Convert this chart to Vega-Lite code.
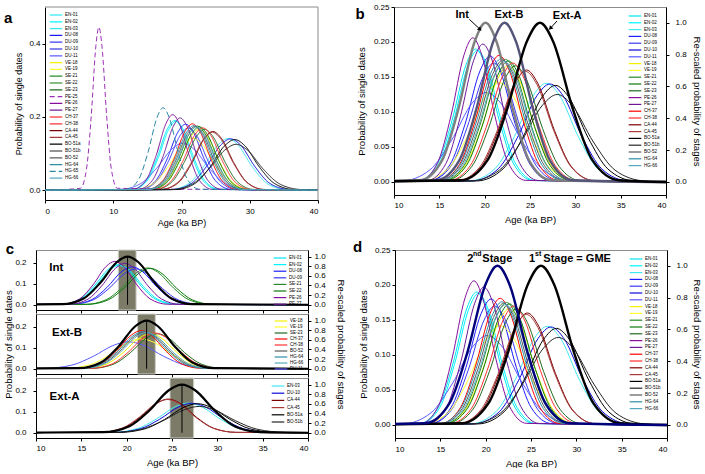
{
"$schema":"https://vega.github.io/schema/vega-lite/v6.json",
"padding":{"left":3,"top":2,"right":0,"bottom":0},
"background":"white",
"config":{
 "font":"Liberation Sans",
 "view":{"stroke":"#8c8c8c","strokeWidth":1},
 "axis":{"labelFontSize":8,"titleFontSize":9.5,"titleFontWeight":"normal","tickSize":3,"labelPadding":2,"grid":false,"domainColor":"#000","tickColor":"#000","labelColor":"#000","titleColor":"#000"},
 "legend":{"symbolType":"M-2.8,0H2.8","symbolSize":20.25,"symbolStrokeWidth":1.2,"labelFontSize":4.5,"labelColor":"#000","rowPadding":0.8,"labelOffset":6,"padding":0,"offset":6,"orient":"top-right"}
},
"datasets":{
"cv":[
{"s":"EN-01","x":0,"y":0},{"s":"EN-01","x":12.7,"y":0.0021},{"s":"EN-01","x":14.8,"y":0.0257},{"s":"EN-01","x":16.38,"y":0.087},{"s":"EN-01","x":17.95,"y":0.1677},{"s":"EN-01","x":19,"y":0.19},{"s":"EN-01","x":20.05,"y":0.1677},{"s":"EN-01","x":21.63,"y":0.087},{"s":"EN-01","x":23.2,"y":0.0257},{"s":"EN-01","x":25.3,"y":0.0021},{"s":"EN-01","x":40,"y":0},
{"s":"EN-02","x":0,"y":0},{"s":"EN-02","x":12.84,"y":0.0021},{"s":"EN-02","x":14.96,"y":0.0254},{"s":"EN-02","x":16.55,"y":0.0861},{"s":"EN-02","x":18.14,"y":0.1659},{"s":"EN-02","x":19.2,"y":0.188},{"s":"EN-02","x":20.26,"y":0.1659},{"s":"EN-02","x":21.85,"y":0.0861},{"s":"EN-02","x":23.44,"y":0.0254},{"s":"EN-02","x":25.56,"y":0.0021},{"s":"EN-02","x":40,"y":0},
{"s":"EN-03","x":0,"y":0},{"s":"EN-03","x":18.31,"y":0.0016},{"s":"EN-03","x":21.14,"y":0.0191},{"s":"EN-03","x":23.26,"y":0.0646},{"s":"EN-03","x":25.39,"y":0.1244},{"s":"EN-03","x":26.8,"y":0.141},{"s":"EN-03","x":28.22,"y":0.1244},{"s":"EN-03","x":30.34,"y":0.0646},{"s":"EN-03","x":32.46,"y":0.0191},{"s":"EN-03","x":35.29,"y":0.0016},{"s":"EN-03","x":40,"y":0},
{"s":"DU-08","x":0,"y":0},{"s":"DU-08","x":13.94,"y":0.002},{"s":"DU-08","x":16.16,"y":0.0244},{"s":"DU-08","x":17.83,"y":0.0824},{"s":"DU-08","x":19.49,"y":0.1589},{"s":"DU-08","x":20.6,"y":0.18},{"s":"DU-08","x":21.71,"y":0.1589},{"s":"DU-08","x":23.38,"y":0.0824},{"s":"DU-08","x":25.04,"y":0.0244},{"s":"DU-08","x":27.26,"y":0.002},{"s":"DU-08","x":40,"y":0},
{"s":"DU-09","x":0,"y":0},{"s":"DU-09","x":13.95,"y":0.0019},{"s":"DU-09","x":16.3,"y":0.023},{"s":"DU-09","x":18.06,"y":0.0778},{"s":"DU-09","x":19.83,"y":0.15},{"s":"DU-09","x":21,"y":0.17},{"s":"DU-09","x":22.18,"y":0.15},{"s":"DU-09","x":23.94,"y":0.0778},{"s":"DU-09","x":25.7,"y":0.023},{"s":"DU-09","x":28.05,"y":0.0019},{"s":"DU-09","x":40,"y":0},
{"s":"DU-10","x":0,"y":0},{"s":"DU-10","x":18.65,"y":0.0016},{"s":"DU-10","x":21.5,"y":0.0189},{"s":"DU-10","x":23.64,"y":0.0641},{"s":"DU-10","x":25.78,"y":0.1236},{"s":"DU-10","x":27.2,"y":0.14},{"s":"DU-10","x":28.63,"y":0.1236},{"s":"DU-10","x":30.76,"y":0.0641},{"s":"DU-10","x":32.9,"y":0.0189},{"s":"DU-10","x":35.75,"y":0.0016},{"s":"DU-10","x":40,"y":0},
{"s":"DU-11","x":0,"y":0},{"s":"DU-11","x":10.84,"y":0.0014},{"s":"DU-11","x":13.96,"y":0.0173},{"s":"DU-11","x":16.3,"y":0.0586},{"s":"DU-11","x":18.64,"y":0.113},{"s":"DU-11","x":20.2,"y":0.128},{"s":"DU-11","x":21.76,"y":0.113},{"s":"DU-11","x":24.1,"y":0.0586},{"s":"DU-11","x":26.44,"y":0.0173},{"s":"DU-11","x":29.56,"y":0.0014},{"s":"DU-11","x":40,"y":0},
{"s":"VE-18","x":0,"y":0},{"s":"VE-18","x":15.4,"y":0.0018},{"s":"VE-18","x":17.8,"y":0.0225},{"s":"VE-18","x":19.6,"y":0.076},{"s":"VE-18","x":21.4,"y":0.1465},{"s":"VE-18","x":22.6,"y":0.166},{"s":"VE-18","x":23.8,"y":0.1465},{"s":"VE-18","x":25.6,"y":0.076},{"s":"VE-18","x":27.4,"y":0.0225},{"s":"VE-18","x":29.8,"y":0.0018},{"s":"VE-18","x":40,"y":0},
{"s":"VE-19","x":0,"y":0},{"s":"VE-19","x":13.17,"y":0.0016},{"s":"VE-19","x":15.98,"y":0.0192},{"s":"VE-19","x":18.09,"y":0.065},{"s":"VE-19","x":20.2,"y":0.1253},{"s":"VE-19","x":21.6,"y":0.142},{"s":"VE-19","x":23.01,"y":0.1253},{"s":"VE-19","x":25.11,"y":0.065},{"s":"VE-19","x":27.22,"y":0.0192},{"s":"VE-19","x":30.03,"y":0.0016},{"s":"VE-19","x":40,"y":0},
{"s":"SE-21","x":0,"y":0},{"s":"SE-21","x":15.46,"y":0.0019},{"s":"SE-21","x":17.74,"y":0.0237},{"s":"SE-21","x":19.45,"y":0.0801},{"s":"SE-21","x":21.16,"y":0.1544},{"s":"SE-21","x":22.3,"y":0.175},{"s":"SE-21","x":23.44,"y":0.1544},{"s":"SE-21","x":25.15,"y":0.0801},{"s":"SE-21","x":26.86,"y":0.0237},{"s":"SE-21","x":29.14,"y":0.0019},{"s":"SE-21","x":40,"y":0},
{"s":"SE-22","x":0,"y":0},{"s":"SE-22","x":15.67,"y":0.0019},{"s":"SE-22","x":17.98,"y":0.0234},{"s":"SE-22","x":19.71,"y":0.0792},{"s":"SE-22","x":21.45,"y":0.1527},{"s":"SE-22","x":22.6,"y":0.173},{"s":"SE-22","x":23.76,"y":0.1527},{"s":"SE-22","x":25.49,"y":0.0792},{"s":"SE-22","x":27.22,"y":0.0234},{"s":"SE-22","x":29.53,"y":0.0019},{"s":"SE-22","x":40,"y":0},
{"s":"SE-23","x":0,"y":0},{"s":"SE-23","x":16.2,"y":0.0018},{"s":"SE-23","x":18.6,"y":0.0225},{"s":"SE-23","x":20.4,"y":0.076},{"s":"SE-23","x":22.2,"y":0.1465},{"s":"SE-23","x":23.4,"y":0.166},{"s":"SE-23","x":24.6,"y":0.1465},{"s":"SE-23","x":26.4,"y":0.076},{"s":"SE-23","x":28.2,"y":0.0225},{"s":"SE-23","x":30.6,"y":0.0018},{"s":"SE-23","x":40,"y":0},
{"s":"PE-25","x":0,"y":0},{"s":"PE-25","x":5.2,"y":0.0049},{"s":"PE-25","x":6.1,"y":0.0602},{"s":"PE-25","x":6.78,"y":0.2037},{"s":"PE-25","x":7.45,"y":0.3927},{"s":"PE-25","x":7.9,"y":0.445},{"s":"PE-25","x":8.35,"y":0.3927},{"s":"PE-25","x":9.03,"y":0.2037},{"s":"PE-25","x":9.7,"y":0.0602},{"s":"PE-25","x":10.6,"y":0.0049},{"s":"PE-25","x":40,"y":0},
{"s":"PE-26","x":0,"y":0},{"s":"PE-26","x":12.88,"y":0.0023},{"s":"PE-26","x":14.82,"y":0.0279},{"s":"PE-26","x":16.28,"y":0.0943},{"s":"PE-26","x":17.73,"y":0.1818},{"s":"PE-26","x":18.7,"y":0.206},{"s":"PE-26","x":19.67,"y":0.1818},{"s":"PE-26","x":21.13,"y":0.0943},{"s":"PE-26","x":22.58,"y":0.0279},{"s":"PE-26","x":24.52,"y":0.0023},{"s":"PE-26","x":40,"y":0},
{"s":"PE-27","x":0,"y":0},{"s":"PE-27","x":13.71,"y":0.0022},{"s":"PE-27","x":15.74,"y":0.0267},{"s":"PE-27","x":17.26,"y":0.0902},{"s":"PE-27","x":18.79,"y":0.1739},{"s":"PE-27","x":19.8,"y":0.197},{"s":"PE-27","x":20.82,"y":0.1739},{"s":"PE-27","x":22.34,"y":0.0902},{"s":"PE-27","x":23.86,"y":0.0267},{"s":"PE-27","x":25.89,"y":0.0022},{"s":"PE-27","x":40,"y":0},
{"s":"CH-37","x":0,"y":0},{"s":"CH-37","x":15,"y":0.002},{"s":"CH-37","x":17.2,"y":0.0245},{"s":"CH-37","x":18.85,"y":0.0829},{"s":"CH-37","x":20.5,"y":0.1597},{"s":"CH-37","x":21.6,"y":0.181},{"s":"CH-37","x":22.7,"y":0.1597},{"s":"CH-37","x":24.35,"y":0.0829},{"s":"CH-37","x":26,"y":0.0245},{"s":"CH-37","x":28.2,"y":0.002},{"s":"CH-37","x":40,"y":0},
{"s":"CH-38","x":0,"y":0},{"s":"CH-38","x":16.05,"y":0.0019},{"s":"CH-38","x":18.4,"y":0.023},{"s":"CH-38","x":20.16,"y":0.0778},{"s":"CH-38","x":21.93,"y":0.15},{"s":"CH-38","x":23.1,"y":0.17},{"s":"CH-38","x":24.28,"y":0.15},{"s":"CH-38","x":26.04,"y":0.0778},{"s":"CH-38","x":27.8,"y":0.023},{"s":"CH-38","x":30.15,"y":0.0019},{"s":"CH-38","x":40,"y":0},
{"s":"CA-44","x":0,"y":0},{"s":"CA-44","x":17.13,"y":0.0018},{"s":"CA-44","x":19.62,"y":0.0216},{"s":"CA-44","x":21.49,"y":0.0732},{"s":"CA-44","x":23.36,"y":0.1412},{"s":"CA-44","x":24.6,"y":0.16},{"s":"CA-44","x":25.85,"y":0.1412},{"s":"CA-44","x":27.71,"y":0.0732},{"s":"CA-44","x":29.58,"y":0.0216},{"s":"CA-44","x":32.07,"y":0.0018},{"s":"CA-44","x":40,"y":0},
{"s":"CA-45","x":0,"y":0},{"s":"CA-45","x":16.94,"y":0.0018},{"s":"CA-45","x":19.46,"y":0.0214},{"s":"CA-45","x":21.35,"y":0.0723},{"s":"CA-45","x":23.24,"y":0.1394},{"s":"CA-45","x":24.5,"y":0.158},{"s":"CA-45","x":25.76,"y":0.1394},{"s":"CA-45","x":27.65,"y":0.0723},{"s":"CA-45","x":29.54,"y":0.0214},{"s":"CA-45","x":32.06,"y":0.0018},{"s":"CA-45","x":40,"y":0},
{"s":"BO-51a","x":0,"y":0},{"s":"BO-51a","x":19.13,"y":0.0015},{"s":"BO-51a","x":22.02,"y":0.0187},{"s":"BO-51a","x":24.19,"y":0.0632},{"s":"BO-51a","x":26.36,"y":0.1218},{"s":"BO-51a","x":27.8,"y":0.138},{"s":"BO-51a","x":29.25,"y":0.1218},{"s":"BO-51a","x":31.41,"y":0.0632},{"s":"BO-51a","x":33.58,"y":0.0187},{"s":"BO-51a","x":36.47,"y":0.0015},{"s":"BO-51a","x":40,"y":0},
{"s":"BO-51b","x":0,"y":0},{"s":"BO-51b","x":18.43,"y":0.0014},{"s":"BO-51b","x":21.62,"y":0.0169},{"s":"BO-51b","x":24.01,"y":0.0572},{"s":"BO-51b","x":26.41,"y":0.1103},{"s":"BO-51b","x":28,"y":0.125},{"s":"BO-51b","x":29.6,"y":0.1103},{"s":"BO-51b","x":31.99,"y":0.0572},{"s":"BO-51b","x":34.38,"y":0.0169},{"s":"BO-51b","x":37.57,"y":0.0014},{"s":"BO-51b","x":40,"y":0},
{"s":"BO-52","x":0,"y":0},{"s":"BO-52","x":15.13,"y":0.0019},{"s":"BO-52","x":17.42,"y":0.0235},{"s":"BO-52","x":19.14,"y":0.0797},{"s":"BO-52","x":20.86,"y":0.1536},{"s":"BO-52","x":22,"y":0.174},{"s":"BO-52","x":23.15,"y":0.1536},{"s":"BO-52","x":24.86,"y":0.0797},{"s":"BO-52","x":26.58,"y":0.0235},{"s":"BO-52","x":28.87,"y":0.0019},{"s":"BO-52","x":40,"y":0},
{"s":"HG-64","x":0,"y":0},{"s":"HG-64","x":14.99,"y":0.002},{"s":"HG-64","x":17.26,"y":0.0238},{"s":"HG-64","x":18.96,"y":0.0806},{"s":"HG-64","x":20.67,"y":0.1553},{"s":"HG-64","x":21.8,"y":0.176},{"s":"HG-64","x":22.94,"y":0.1553},{"s":"HG-64","x":24.64,"y":0.0806},{"s":"HG-64","x":26.34,"y":0.0238},{"s":"HG-64","x":28.61,"y":0.002},{"s":"HG-64","x":40,"y":0},
{"s":"HG-65","x":0,"y":0},{"s":"HG-65","x":11.99,"y":0.0025},{"s":"HG-65","x":13.76,"y":0.0304},{"s":"HG-65","x":15.09,"y":0.103},{"s":"HG-65","x":16.42,"y":0.1986},{"s":"HG-65","x":17.3,"y":0.225},{"s":"HG-65","x":18.19,"y":0.1986},{"s":"HG-65","x":19.51,"y":0.103},{"s":"HG-65","x":20.84,"y":0.0304},{"s":"HG-65","x":22.61,"y":0.0025},{"s":"HG-65","x":40,"y":0},
{"s":"HG-66","x":0,"y":0},{"s":"HG-66","x":15.24,"y":0.0019},{"s":"HG-66","x":17.56,"y":0.0233},{"s":"HG-66","x":19.3,"y":0.0787},{"s":"HG-66","x":21.04,"y":0.1518},{"s":"HG-66","x":22.2,"y":0.172},{"s":"HG-66","x":23.36,"y":0.1518},{"s":"HG-66","x":25.1,"y":0.0787},{"s":"HG-66","x":26.84,"y":0.0233},{"s":"HG-66","x":29.16,"y":0.0019},{"s":"HG-66","x":40,"y":0}
],
"st":[
{"g":"Int","x":0,"y":0},{"g":"Int","x":12.9,"y":0.0111},{"g":"Int","x":15.3,"y":0.1353},{"g":"Int","x":17.1,"y":0.4578},{"g":"Int","x":18.9,"y":0.8825},{"g":"Int","x":20.1,"y":1},{"g":"Int","x":21.3,"y":0.8825},{"g":"Int","x":23.1,"y":0.4578},{"g":"Int","x":24.9,"y":0.1353},{"g":"Int","x":27.3,"y":0.0111},{"g":"Int","x":40,"y":0},
{"g":"Ext-B","x":0,"y":0},{"g":"Ext-B","x":14.7,"y":0.0111},{"g":"Ext-B","x":17.2,"y":0.1353},{"g":"Ext-B","x":19.08,"y":0.4578},{"g":"Ext-B","x":20.95,"y":0.8825},{"g":"Ext-B","x":22.2,"y":1},{"g":"Ext-B","x":23.45,"y":0.8825},{"g":"Ext-B","x":25.33,"y":0.4578},{"g":"Ext-B","x":27.2,"y":0.1353},{"g":"Ext-B","x":29.7,"y":0.0111},{"g":"Ext-B","x":40,"y":0},
{"g":"Ext-A","x":0,"y":0},{"g":"Ext-A","x":17.4,"y":0.0111},{"g":"Ext-A","x":20.3,"y":0.1353},{"g":"Ext-A","x":22.48,"y":0.4578},{"g":"Ext-A","x":24.65,"y":0.8825},{"g":"Ext-A","x":26.1,"y":1},{"g":"Ext-A","x":27.55,"y":0.8825},{"g":"Ext-A","x":29.73,"y":0.4578},{"g":"Ext-A","x":31.9,"y":0.1353},{"g":"Ext-A","x":34.8,"y":0.0111},{"g":"Ext-A","x":40,"y":0},
{"g":"2nd","x":0,"y":0},{"g":"2nd","x":13.35,"y":0.0111},{"g":"2nd","x":16,"y":0.1353},{"g":"2nd","x":17.99,"y":0.4578},{"g":"2nd","x":19.98,"y":0.8825},{"g":"2nd","x":21.3,"y":1},{"g":"2nd","x":22.63,"y":0.8825},{"g":"2nd","x":24.61,"y":0.4578},{"g":"2nd","x":26.6,"y":0.1353},{"g":"2nd","x":29.25,"y":0.0111},{"g":"2nd","x":40,"y":0}
]
},
"columns":1,
"spacing":12,
"align":"none",
"resolve":{"scale":{"color":"independent","strokeDash":"independent","stroke":"independent"}},
"concat":[
{
 "columns":2,
 "concat":[
  {
   "width":282,"height":193,
   "view":{"stroke":null},
   "encoding":{"x":{"field":"x","type":"quantitative","scale":{"domain":[0,40],"range":[9,282],"nice":false},"axis":{"values":[0,10,20,30,40],"title":"Age (ka BP)","titleFontSize":9,"labelPadding":4,"titlePadding":3}}},
   "layer":[
    {"data":{"name":"cv"},
     "mark":{"type":"line","interpolate":"monotone","strokeWidth":1,"clip":true},
     "encoding":{
      "y":{"field":"y","type":"quantitative","scale":{"domain":[-0.027,0.5],"nice":false,"zero":false},"axis":{"values":[0,0.1,0.2,0.3,0.4,0.5],"format":".1f","title":"Probability of single dates","titleFontSize":9,"titlePadding":5,"offset":-9}},
      "color":{"field":"s","type":"nominal","scale":{"domain":["EN-01","EN-02","EN-03","DU-08","DU-09","DU-10","DU-11","VE-18","VE-19","SE-21","SE-22","SE-23","PE-25","PE-26","PE-27","CH-37","CH-38","CA-44","CA-45","BO-51a","BO-51b","BO-52","HG-64","HG-65","HG-66"],"range":["#00e5ee","#00f5ff","#40e8f0","#1c1cff","#3a3af5","#0a0ad8","#5a5aff","#f2f200","#ffff33","#2a8a2a","#0b7a0b","#1f6b1f","#9a2fb5","#86109c","#6e1a98","#ff0000","#ff3030","#7a0000","#a83a3a","#000000","#262626","#5a5a5a","#2e8ea8","#2a88a5","#55a8c0"]},"legend":{"title":null,"orient":"none","legendX":17,"legendY":5}},
      "strokeDash":{"field":"s","type":"nominal","scale":{"domain":["EN-01","EN-02","EN-03","DU-08","DU-09","DU-10","DU-11","VE-18","VE-19","SE-21","SE-22","SE-23","PE-25","PE-26","PE-27","CH-37","CH-38","CA-44","CA-45","BO-51a","BO-51b","BO-52","HG-64","HG-65","HG-66"],"range":[[1,0],[1,0],[1,0],[1,0],[1,0],[1,0],[1,0],[1,0],[1,0],[1,0],[1,0],[1,0],[5,3],[1,0],[1,0],[1,0],[1,0],[1,0],[1,0],[1,0],[1,0],[1,0],[1,0],[6,3],[1,0]]},"legend":{"title":null,"orient":"none","legendX":17,"legendY":5}}
     }},
    {"data":{"values":[{"x":0,"y":0.5,"x2":40,"y2":0.5},{"x":40,"y":-0.027,"x2":40,"y2":0.5}]},
     "mark":{"type":"rule","color":"#8c8c8c","strokeWidth":1},
     "encoding":{"y":{"field":"y","type":"quantitative"},"x2":{"field":"x2"},"y2":{"field":"y2"}}},
    {"data":{"values":[{"t":"a","x":-5.4,"y":0.469}]},
     "mark":{"type":"text","fontSize":15,"fontWeight":"bold","baseline":"middle","align":"center"},
     "encoding":{"y":{"field":"y","type":"quantitative"},"text":{"field":"t"}}}
   ]
  },
  {
   "width":272,"height":188,
   "encoding":{"x":{"field":"x","type":"quantitative","scale":{"domain":[10,40],"nice":false},"axis":{"values":[10,15,20,25,30,35,40],"title":"Age (ka BP)","labelPadding":3,"titlePadding":5}}},
   "layer":[
    {"data":{"name":"cv"},"transform":[{"filter":{"field":"s","oneOf":["EN-01","EN-02","EN-03","DU-08","DU-09","DU-10","DU-11","VE-18","VE-19","SE-21","SE-22","SE-23","PE-26","PE-27","CH-37","CH-38","CA-44","CA-45","BO-51a","BO-51b","BO-52","HG-64","HG-66"]}}],
     "mark":{"type":"line","interpolate":"monotone","strokeWidth":1,"clip":true},
     "encoding":{
      "y":{"field":"y","type":"quantitative","scale":{"domain":[-0.0186,0.25],"nice":false,"zero":false},"axis":{"orient":"left","values":[0,0.05,0.1,0.15,0.2,0.25],"format":".2f","title":"Probability of single dates","titlePadding":7}},
      "color":{"field":"s","type":"nominal","scale":{"domain":["EN-01","EN-02","EN-03","DU-08","DU-09","DU-10","DU-11","VE-18","VE-19","SE-21","SE-22","SE-23","PE-26","PE-27","CH-37","CH-38","CA-44","CA-45","BO-51a","BO-51b","BO-52","HG-64","HG-66"],"range":["#00e5ee","#00f5ff","#40e8f0","#1c1cff","#3a3af5","#0a0ad8","#5a5aff","#f2f200","#ffff33","#2a8a2a","#0b7a0b","#1f6b1f","#86109c","#6e1a98","#ff0000","#ff3030","#7a0000","#a83a3a","#000000","#262626","#5a5a5a","#2e8ea8","#55a8c0"]},"legend":{"title":null}}
     }},
    {"data":{"name":"st"},"transform":[{"filter":{"field":"g","oneOf":["Int","Ext-B","Ext-A"]}}],
     "mark":{"type":"line","interpolate":"monotone","strokeWidth":2.4,"clip":true},
     "encoding":{
      "y":{"field":"y","type":"quantitative","scale":{"domain":[-0.0818,1.099],"nice":false,"zero":false},"axis":{"orient":"right","values":[0,0.2,0.4,0.6,0.8,1],"format":".1f","title":"Re-scaled probability of stages","labelPadding":6,"titlePadding":5}},
      "stroke":{"field":"g","type":"nominal","scale":{"domain":["Int","Ext-B","Ext-A"],"range":["#7f7f7f","#55557a","#000000"]},"legend":null}
     }},
    {"encoding":{"y":{"field":"y","type":"quantitative","scale":{"domain":[-0.0186,0.25],"nice":false,"zero":false},"axis":null}},
     "layer":[
      {"data":{"values":[{"t":"Int","x":17.53,"y":0.2389},{"t":"Ext-B","x":22.68,"y":0.2389},{"t":"Ext-A","x":29.1,"y":0.2367}]},
       "mark":{"type":"text","fontSize":11,"fontWeight":"bold","baseline":"middle","align":"center"},
       "encoding":{"text":{"field":"t"}}},
      {"data":{"values":[{"x":18.31,"y":0.2324,"x2":19.49,"y2":0.2181},{"x":27.98,"y":0.23,"x2":27.24,"y2":0.2195}]},
       "mark":{"type":"rule","strokeWidth":1,"color":"#000"},
       "encoding":{"x2":{"field":"x2"},"y2":{"field":"y2"}}},
      {"data":{"values":[{"x":19.49,"y":0.2181}]},
       "mark":{"type":"point","shape":"triangle-up","filled":true,"color":"#000","opacity":1,"size":22,"angle":133},"encoding":{}},
      {"data":{"values":[{"x":27.24,"y":0.2195}]},
       "mark":{"type":"point","shape":"triangle-up","filled":true,"color":"#000","opacity":1,"size":22,"angle":222},"encoding":{}},
      {"data":{"values":[{"t":"b","x":6.25,"y":0.24}]},
       "mark":{"type":"text","fontSize":15,"fontWeight":"bold","baseline":"middle","align":"center"},
       "encoding":{"text":{"field":"t"}}}
     ]}
   ],
   "resolve":{"scale":{"y":"independent"}}
  }
 ],
 "spacing":76,
 "bounds":"flush",
 "align":"none",
 "resolve":{"scale":{"color":"independent","strokeDash":"independent","stroke":"independent"}}
},
{
 "columns":2,
 "concat":[
  {
   "vconcat":[
    {
     "width":272,"height":60,
     "encoding":{"x":{"field":"x","type":"quantitative","scale":{"domain":[10,40],"nice":false},"axis":{"values":[10,15,20,25,30,35,40],"labels":false,"title":null}}},
     "layer":[
      {"data":{"values":[{"x":19.08,"x2":21.04}]},"mark":{"type":"rect","color":"#7b7b68","stroke":"#d0d0c8","strokeWidth":1},"encoding":{"x2":{"field":"x2"}}},
      {"data":{"name":"cv"},"transform":[{"filter":{"field":"s","oneOf":["EN-01","EN-02","DU-08","DU-09","SE-21","SE-22","PE-26","PE-27"]}}],
       "mark":{"type":"line","interpolate":"monotone","strokeWidth":1,"clip":true},
       "encoding":{
        "y":{"field":"y","type":"quantitative","scale":{"domain":[-0.025,0.26],"nice":false,"zero":false},"axis":{"orient":"left","values":[0,0.1,0.2],"format":".1f","title":null,"labelPadding":7}},
        "color":{"field":"s","type":"nominal","scale":{"domain":["EN-01","EN-02","DU-08","DU-09","SE-21","SE-22","PE-26","PE-27"],"range":["#00e5ee","#00f5ff","#1c1cff","#3a3af5","#2a8a2a","#0b7a0b","#86109c","#6e1a98"]},"legend":{"title":null,"rowPadding":0.6,"offset":5}}
       }},
      {"encoding":{"y":{"field":"y","type":"quantitative","scale":{"domain":[-0.109,1.137],"nice":false,"zero":false},"axis":{"orient":"right","values":[0,0.2,0.4,0.6,0.8,1],"format":".1f","title":null,"labelPadding":3}}},
       "layer":[
        {"data":{"name":"st"},"transform":[{"filter":{"field":"g","equal":"Int"}}],"mark":{"type":"line","interpolate":"monotone","strokeWidth":2.2,"color":"#000","clip":true},"encoding":{}},
        {"data":{"values":[{"x":20.1,"y":0,"y2":1}]},"mark":{"type":"rule","color":"#000","strokeWidth":1},"encoding":{"y2":{"field":"y2"}}}
       ]},
      {"encoding":{"y":{"field":"y","type":"quantitative","scale":{"domain":[-0.025,0.26],"nice":false,"zero":false},"axis":null}},
       "layer":[
        {"data":{"values":[{"t":"Int","x":11.47,"y":0.175}]},"mark":{"type":"text","fontSize":11.5,"fontWeight":"bold","baseline":"middle","align":"left"},"encoding":{"text":{"field":"t"}}},
        {"data":{"values":[{"t":"c","x":7.13,"y":0.265}]},"mark":{"type":"text","fontSize":15,"fontWeight":"bold","baseline":"middle","align":"center"},"encoding":{"text":{"field":"t"}}}
       ]}
     ],
     "resolve":{"scale":{"y":"independent"}}
    },
    {
     "width":272,"height":60,
     "encoding":{"x":{"field":"x","type":"quantitative","scale":{"domain":[10,40],"nice":false},"axis":{"values":[10,15,20,25,30,35,40],"labels":false,"title":null}}},
     "layer":[
      {"data":{"values":[{"x":21.2,"x2":23.16}]},"mark":{"type":"rect","color":"#7b7b68","stroke":"#d0d0c8","strokeWidth":1},"encoding":{"x2":{"field":"x2"}}},
      {"data":{"name":"cv"},"transform":[{"filter":{"field":"s","oneOf":["VE-18","VE-19","SE-23","CH-37","CH-38","BO-52","HG-64","HG-66","DU-11"]}}],
       "mark":{"type":"line","interpolate":"monotone","strokeWidth":1,"clip":true},
       "encoding":{
        "y":{"field":"y","type":"quantitative","scale":{"domain":[-0.025,0.26],"nice":false,"zero":false},"axis":{"orient":"left","values":[0,0.1,0.2],"format":".1f","title":"Probability of single dates","titlePadding":1,"labelPadding":7}},
        "color":{"field":"s","type":"nominal","scale":{"domain":["VE-18","VE-19","SE-23","CH-37","CH-38","BO-52","HG-64","HG-66","DU-11"],"range":["#f2f200","#ffff33","#1f6b1f","#ff0000","#ff3030","#5a5a5a","#2e8ea8","#55a8c0","#5a5aff"]},"legend":{"title":null,"rowPadding":0,"offset":4}}
       }},
      {"encoding":{"y":{"field":"y","type":"quantitative","scale":{"domain":[-0.109,1.137],"nice":false,"zero":false},"axis":{"orient":"right","values":[0,0.2,0.4,0.6,0.8,1],"format":".1f","title":"Re-scaled probability of stages","labelPadding":3,"titlePadding":10}}},
       "layer":[
        {"data":{"name":"st"},"transform":[{"filter":{"field":"g","equal":"Ext-B"}}],"mark":{"type":"line","interpolate":"monotone","strokeWidth":2.2,"color":"#000","clip":true},"encoding":{}},
        {"data":{"values":[{"x":22.2,"y":0,"y2":1}]},"mark":{"type":"rule","color":"#000","strokeWidth":1},"encoding":{"y2":{"field":"y2"}}}
       ]},
      {"encoding":{"y":{"field":"y","type":"quantitative","scale":{"domain":[-0.025,0.26],"nice":false,"zero":false},"axis":null}},
       "layer":[
        {"data":{"values":[{"t":"Ext-B","x":11.76,"y":0.168}]},"mark":{"type":"text","fontSize":11.5,"fontWeight":"bold","baseline":"middle","align":"left"},"encoding":{"text":{"field":"t"}}}
       ]}
     ],
     "resolve":{"scale":{"y":"independent"}}
    },
    {
     "width":272,"height":60,
     "encoding":{"x":{"field":"x","type":"quantitative","scale":{"domain":[10,40],"nice":false},"axis":{"values":[10,15,20,25,30,35,40],"title":"Age (ka BP)","labelPadding":3,"titlePadding":5}}},
     "layer":[
      {"data":{"values":[{"x":24.78,"x2":27.39}]},"mark":{"type":"rect","color":"#7b7b68","stroke":"#d0d0c8","strokeWidth":1},"encoding":{"x2":{"field":"x2"}}},
      {"data":{"name":"cv"},"transform":[{"filter":{"field":"s","oneOf":["EN-03","DU-10","CA-44","CA-45","BO-51a","BO-51b"]}}],
       "mark":{"type":"line","interpolate":"monotone","strokeWidth":1,"clip":true},
       "encoding":{
        "y":{"field":"y","type":"quantitative","scale":{"domain":[-0.025,0.26],"nice":false,"zero":false},"axis":{"orient":"left","values":[0,0.1,0.2],"format":".1f","title":null,"labelPadding":7}},
        "color":{"field":"s","type":"nominal","scale":{"domain":["EN-03","DU-10","CA-44","CA-45","BO-51a","BO-51b"],"range":["#40e8f0","#0a0ad8","#7a0000","#a83a3a","#000000","#262626"]},"legend":{"title":null,"rowPadding":1.2,"offset":5}}
       }},
      {"encoding":{"y":{"field":"y","type":"quantitative","scale":{"domain":[-0.109,1.137],"nice":false,"zero":false},"axis":{"orient":"right","values":[0,0.2,0.4,0.6,0.8,1],"format":".1f","title":null,"labelPadding":3}}},
       "layer":[
        {"data":{"name":"st"},"transform":[{"filter":{"field":"g","equal":"Ext-A"}}],"mark":{"type":"line","interpolate":"monotone","strokeWidth":2.2,"color":"#000","clip":true},"encoding":{}},
        {"data":{"values":[{"x":26.1,"y":0,"y2":1}]},"mark":{"type":"rule","color":"#000","strokeWidth":1},"encoding":{"y2":{"field":"y2"}}}
       ]},
      {"encoding":{"y":{"field":"y","type":"quantitative","scale":{"domain":[-0.025,0.26],"nice":false,"zero":false},"axis":null}},
       "layer":[
        {"data":{"values":[{"t":"Ext-A","x":11.5,"y":0.17}]},"mark":{"type":"text","fontSize":11.5,"fontWeight":"bold","baseline":"middle","align":"left"},"encoding":{"text":{"field":"t"}}}
       ]}
     ],
     "resolve":{"scale":{"y":"independent"}}
    }
   ],
   "spacing":4,
   "bounds":"flush",
   "resolve":{"scale":{"color":"independent","strokeDash":"independent","stroke":"independent"}}
  },
  {
   "width":272,"height":188,
   "encoding":{"x":{"field":"x","type":"quantitative","scale":{"domain":[10,40],"nice":false},"axis":{"values":[10,15,20,25,30,35,40],"title":"Age (ka BP)","labelPadding":4,"titlePadding":5}}},
   "layer":[
    {"data":{"name":"cv"},"transform":[{"filter":{"field":"s","oneOf":["EN-01","EN-02","EN-03","DU-08","DU-09","DU-10","DU-11","VE-18","VE-19","SE-21","SE-22","SE-23","PE-26","PE-27","CH-37","CH-38","CA-44","CA-45","BO-51a","BO-51b","BO-52","HG-64","HG-66"]}}],
     "mark":{"type":"line","interpolate":"monotone","strokeWidth":1,"clip":true},
     "encoding":{
      "y":{"field":"y","type":"quantitative","scale":{"domain":[-0.0186,0.25],"nice":false,"zero":false},"axis":{"orient":"left","values":[0,0.05,0.1,0.15,0.2,0.25],"format":".2f","title":"Probability of single dates","titlePadding":6}},
      "color":{"field":"s","type":"nominal","scale":{"domain":["EN-01","EN-02","EN-03","DU-08","DU-09","DU-10","DU-11","VE-18","VE-19","SE-21","SE-22","SE-23","PE-26","PE-27","CH-37","CH-38","CA-44","CA-45","BO-51a","BO-51b","BO-52","HG-64","HG-66"],"range":["#00e5ee","#00f5ff","#40e8f0","#1c1cff","#3a3af5","#0a0ad8","#5a5aff","#f2f200","#ffff33","#2a8a2a","#0b7a0b","#1f6b1f","#86109c","#6e1a98","#ff0000","#ff3030","#7a0000","#a83a3a","#000000","#262626","#5a5a5a","#2e8ea8","#55a8c0"]},"legend":{"title":null}}
     }},
    {"data":{"name":"st"},"transform":[{"filter":{"field":"g","oneOf":["2nd","Ext-A"]}}],
     "mark":{"type":"line","interpolate":"monotone","strokeWidth":2.4,"clip":true},
     "encoding":{
      "y":{"field":"y","type":"quantitative","scale":{"domain":[-0.0818,1.099],"nice":false,"zero":false},"axis":{"orient":"right","values":[0,0.2,0.4,0.6,0.8,1],"format":".1f","title":"Re-scaled probability of stages","labelPadding":6,"titlePadding":4}},
      "stroke":{"field":"g","type":"nominal","scale":{"domain":["2nd","Ext-A"],"range":["#00007a","#000000"]},"legend":null}
     }},
    {"encoding":{"y":{"field":"y","type":"quantitative","scale":{"domain":[-0.0186,0.25],"nice":false,"zero":false},"axis":null}},
     "layer":[
      {"data":{"values":[{"t":"2","x":17.98,"y":0.2369},{"t":"Stage","x":19.63,"y":0.2369},{"t":"1","x":24.78,"y":0.2369},{"t":"Stage = GME","x":26.36,"y":0.2369}]},
       "mark":{"type":"text","fontSize":11,"fontWeight":"bold","baseline":"middle","align":"left"},
       "encoding":{"text":{"field":"t"}}},
      {"data":{"values":[{"t":"nd","x":18.6,"y":0.2443},{"t":"st","x":25.44,"y":0.2443}]},
       "mark":{"type":"text","fontSize":7,"fontWeight":"bold","baseline":"middle","align":"left"},
       "encoding":{"text":{"field":"t"}}},
      {"data":{"values":[{"t":"d","x":5.86,"y":0.254}]},
       "mark":{"type":"text","fontSize":15,"fontWeight":"bold","baseline":"middle","align":"center"},
       "encoding":{"text":{"field":"t"}}}
     ]}
   ],
   "resolve":{"scale":{"y":"independent"}}
  }
 ],
 "spacing":6,
 "align":"none",
 "resolve":{"scale":{"color":"independent","strokeDash":"independent","stroke":"independent"}}
}
]
}
